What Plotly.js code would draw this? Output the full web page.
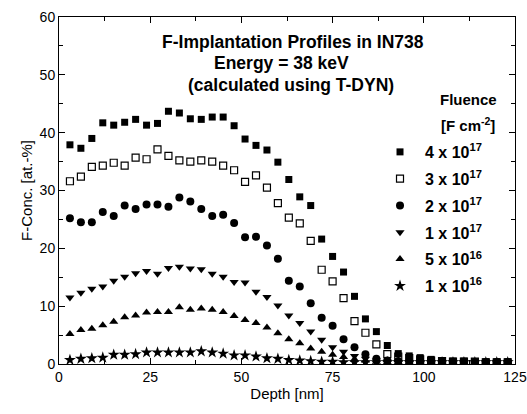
<!DOCTYPE html>
<html>
<head>
<meta charset="utf-8">
<script src="https://cdn.plot.ly/plotly-3.0.1.min.js"></script>
<style>html,body{margin:0;padding:0;background:#fff;}</style>
</head>
<body>
<div id="chart" style="width:527px;height:414px;"></div>
<script>
const depth = [3,6,9,12,15,18,21,24,27,30,33,36,39,42,45,48,51,54,57,60,63,66,69,72,75,78,81,84,87,90,93,96,99,102,105,108,111,114,117,120,123];
const f4e17 = [37.9,37.3,39.0,41.7,41.3,41.8,42.3,41.3,41.6,43.7,43.4,42.4,42.3,42.7,42.7,41.2,38.9,37.8,37.0,34.9,31.9,28.9,27.4,21.6,18.6,15.9,11.7,7.8,5.6,3.2,1.8,1.4,1.1,0.8,0.6,0.5,0.5,0.4,0.4,0.4,0.4];
const f3e17 = [31.6,32.4,34.1,34.3,34.8,34.3,35.7,35.4,37.1,36.0,35.2,35.0,35.2,35.0,34.3,33.5,31.5,32.6,30.5,27.8,25.3,24.3,21.3,16.3,14.3,11.4,7.4,5.4,3.4,1.7,1.3,1.0,0.8,0.6,0.5,0.4,0.4,0.4,0.3,0.3,0.3];
const f2e17 = [25.2,24.5,24.5,26.3,25.6,27.4,26.8,27.6,27.6,27.2,28.8,28.1,26.8,25.6,25.8,24.4,21.9,22.0,20.5,18.2,14.4,13.4,10.5,8.0,6.6,4.3,2.9,1.7,0.9,0.6,0.5,0.4,0.4,0.3,0.3,0.3,0.3,0.3,0.3,0.3,0.3];
const f1e17 = [11.5,12.3,13.0,13.4,14.4,15.1,15.7,16.1,15.6,16.6,16.8,16.5,16.4,15.6,15.1,14.2,14.1,12.5,11.6,10.1,8.4,7.1,5.6,4.2,2.9,2.1,1.4,0.9,0.6,0.4,0.3,0.3,0.3,0.3,0.3,0.3,0.3,0.3,0.3,0.3,0.3];
const f5e16 = [5.2,5.9,6.1,6.7,7.3,8.1,8.4,8.9,9.0,9.0,9.8,9.4,9.6,9.4,9.0,8.3,7.6,7.1,6.3,5.3,4.3,3.6,2.7,2.1,1.6,1.2,0.8,0.6,0.4,0.3,0.3,0.3,0.3,0.3,0.3,0.3,0.3,0.3,0.3,0.3,0.3];
const f1e16 = [0.7,0.9,1.0,1.1,1.6,1.6,1.7,2.0,2.0,2.0,2.0,2.0,2.2,2.0,1.8,1.5,1.5,1.3,1.0,0.9,0.7,0.6,0.5,0.4,0.4,0.3,0.3,0.3,0.3,0.3,0.3,0.3,0.3,0.3,0.3,0.3,0.3,0.3,0.3,0.3,0.3];

const seriesNames = ['4 x 10<sup>17</sup>','3 x 10<sup>17</sup>','2 x 10<sup>17</sup>','1 x 10<sup>17</sup>','5 x 10<sup>16</sup>','1 x 10<sup>16</sup>'];
const seriesValues = [f4e17, f3e17, f2e17, f1e17, f5e16, f1e16];
const symbols = ['square','square-open','circle','triangle-down','triangle-up','star'];
const sizes = [7,7,8,8,8,9];

const FONT = 'Liberation Sans, Arial, Helvetica, sans-serif';

const traces = seriesValues.map((vals, i) => ({
  x: depth, y: vals, name: seriesNames[i], legendgroup: 'g' + i, type: 'scatter', mode: 'markers',
  marker: {symbol: symbols[i], size: sizes[i], color: '#000', line: {color: '#000', width: symbols[i]==='square-open' ? 1.2 : 0}}
}));

const axisCommon = {
  showgrid: false, zeroline: false, showline: true, linecolor: '#000', linewidth: 1,
  mirror: 'ticks', ticks: 'inside', ticklen: 6, tickwidth: 1, tickcolor: '#000',
  tickfont: {family: FONT, size: 14, color: '#000'}
};

const layout = {
  width: 527, height: 414,
  margin: {l: 59, r: 12, t: 17, b: 50},
  paper_bgcolor: '#fff', plot_bgcolor: '#fff',
  font: {family: FONT, color: '#000'},
  showlegend: true,
  xaxis: Object.assign({}, axisCommon, {
    range: [0, 125], tick0: 0, dtick: 25,
    minor: {dtick: 12.5, ticks: 'inside', ticklen: 4, tickcolor: '#000', tickwidth: 1},
    title: {text: 'Depth [nm]', font: {family: FONT, size: 15, color: '#000'}, standoff: 4}
  }),
  yaxis: Object.assign({}, axisCommon, {
    range: [0, 60], tick0: 0, dtick: 10,
    minor: {dtick: 5, ticks: 'inside', ticklen: 4, tickcolor: '#000', tickwidth: 1},
    title: {text: 'F-Conc. [at.-%]', font: {family: FONT, size: 15, color: '#000'}, standoff: 3}
  }),
  legend: {
    x: 0.693, y: 0.66, xanchor: 'left', yanchor: 'top',
    bgcolor: 'rgba(0,0,0,0)', borderwidth: 0, itemwidth: 40, tracegroupgap: 3,
    font: {family: FONT, size: 16, color: '#000', weight: 'bold'}
  },
  annotations: [
    {text: 'F-Implantation Profiles in IN738', x: 0.513, y: 0.928},
    {text: 'Energy = 38 keV', x: 0.489, y: 0.867},
    {text: '(calculated using T-DYN)', x: 0.509, y: 0.804},
    {text: 'Fluence', x: 0.897, y: 0.761, size: 15},
    {text: '[F cm<sup>-2</sup>]', x: 0.897, y: 0.689, size: 15}
  ].map(a => ({
    text: a.text, x: a.x, y: a.y, xref: 'paper', yref: 'paper',
    xanchor: 'center', yanchor: 'middle', showarrow: false,
    font: {family: FONT, size: a.size || 17.5, color: '#000', weight: 'bold'}
  }))
};

Plotly.newPlot('chart', traces, layout, {displayModeBar: false, staticPlot: true});
</script>
</body>
</html>
